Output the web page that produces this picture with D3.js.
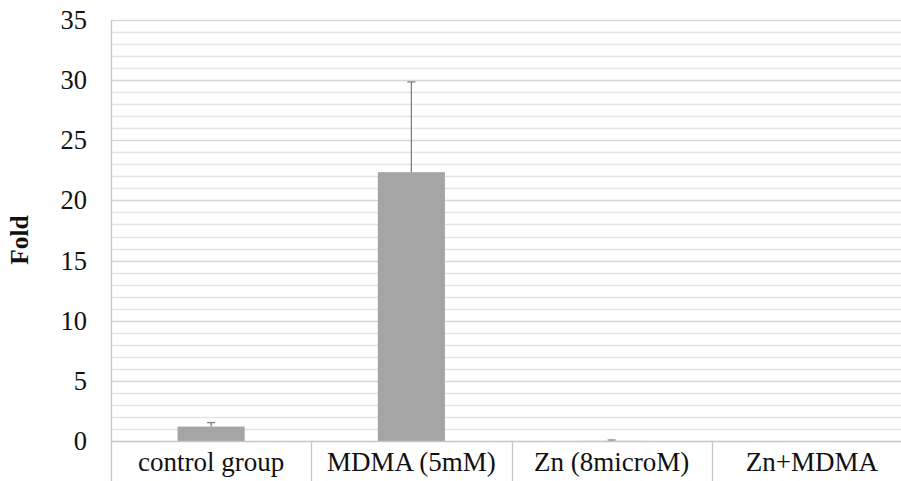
<!DOCTYPE html>
<html>
<head>
<meta charset="utf-8">
<script src="https://cdn.jsdelivr.net/npm/d3@7"></script>
<style>
  html, body { margin: 0; padding: 0; background: #fff; }
  svg { display: block; }
</style>
</head>
<body>
<svg id="chart" width="901" height="481"></svg>
<script>
const categories = ["control group", "MDMA (5mM)", "Zn (8microM)", "Zn+MDMA"];
const values = [1.2, 22.35, 0.01, 0];
const errors = [0.33, 7.5, 0.07, 0];
const yTicks = [0, 5, 10, 15, 20, 25, 30, 35];
const yLabel = "Fold";

(function () {
const fontFam = "'Liberation Serif', 'DejaVu Serif', serif";
const svg = d3.select("#chart").style("font-family", fontFam);
const plotLeft = 111, plotRight = 912, plotTop = 20, zeroY = 441;

const x = d3.scaleBand().domain(categories).range([plotLeft, plotRight]).paddingInner(0).paddingOuter(0);
const y = d3.scaleLinear().domain([0, 35]).range([zeroY, plotTop]);

// gridlines every 1 unit, darker at multiples of 5
const minor = d3.range(1, 36);
svg.append("g").selectAll("line").data(minor).join("line")
  .attr("x1", plotLeft).attr("x2", plotRight)
  .attr("y1", d => Math.round(y(d)) + 0.5).attr("y2", d => Math.round(y(d)) + 0.5)
  .attr("stroke", d => d % 5 === 0 ? "#d6d6d6" : "#e4e4e4")
  .attr("stroke-width", 1.3);

// bars
const barFrac = 0.335;
svg.append("g").selectAll("rect").data(categories).join("rect")
  .attr("x", (d) => x(d) + x.bandwidth() * (1 - barFrac) / 2)
  .attr("width", x.bandwidth() * barFrac)
  .attr("y", (d, i) => y(values[i]))
  .attr("height", (d, i) => zeroY - y(values[i]))
  .attr("fill", "#a5a5a5");

// error bars (upper only)
const eg = svg.append("g").attr("stroke", "#7f7f7f").attr("stroke-width", 1.3);
categories.forEach((c, i) => {
  if (errors[i] <= 0) return;
  const cx = x(c) + x.bandwidth() / 2;
  const yt = y(values[i] + errors[i]);
  eg.append("line").attr("x1", cx).attr("x2", cx).attr("y1", y(values[i])).attr("y2", yt);
  eg.append("line").attr("x1", cx - 4).attr("x2", cx + 4).attr("y1", yt).attr("y2", yt);
});

// x axis line and category dividers
const axisColor = "#c6c6c6";
svg.append("line").attr("x1", plotLeft).attr("x2", plotRight)
  .attr("y1", zeroY + 0.5).attr("y2", zeroY + 0.5).attr("stroke", axisColor).attr("stroke-width", 1.3);
const bounds = categories.map(c => x(c)).concat([plotRight]);
svg.append("g").selectAll("line").data(bounds).join("line")
  .attr("x1", d => Math.round(d) + 0.5).attr("x2", d => Math.round(d) + 0.5)
  .attr("y1", (d, i) => i === 0 ? plotTop : zeroY).attr("y2", 481)
  .attr("stroke", axisColor).attr("stroke-width", 1.3);

// y tick labels
svg.append("g").selectAll("text").data(yTicks).join("text")
  .attr("x", 87).attr("y", d => y(d))
  .attr("text-anchor", "end").attr("dominant-baseline", "central")
  .attr("font-family", fontFam).attr("fill", "#111")
  .attr("font-size", 26.5)
  .text(d => d);

// x category labels
svg.append("g").selectAll("text").data(categories).join("text")
  .attr("x", d => x(d) + x.bandwidth() / 2).attr("y", 462)
  .attr("text-anchor", "middle").attr("dominant-baseline", "central")
  .attr("font-family", fontFam).attr("fill", "#111")
  .attr("font-size", 27)
  .text(d => d);

// y axis title
svg.append("text")
  .attr("transform", "translate(19,240) rotate(-90)")
  .attr("text-anchor", "middle").attr("dominant-baseline", "central")
  .attr("font-family", fontFam).attr("fill", "#111")
  .attr("font-size", 25.5).attr("font-weight", "bold")
  .text(yLabel);
})();
</script>
</body>
</html>
